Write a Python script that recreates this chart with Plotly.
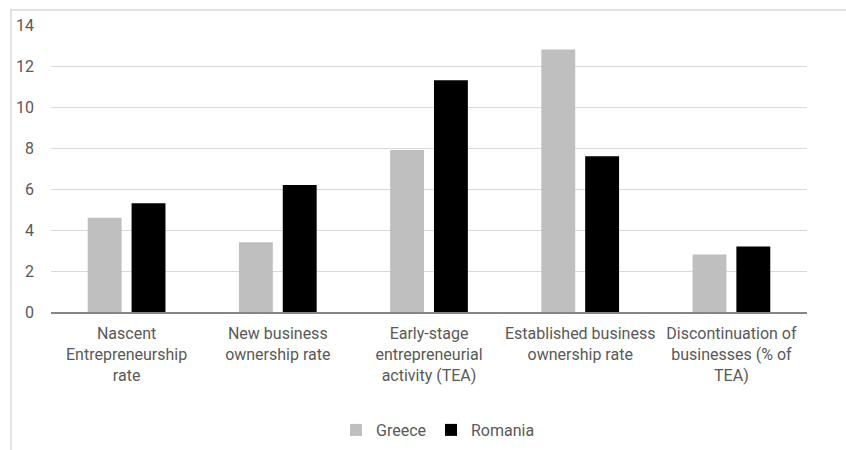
import plotly.graph_objects as go

categories = [
    "Nascent<br>Entrepreneurship<br>rate",
    "New business<br>ownership rate",
    "Early-stage<br>entrepreneurial<br>activity (TEA)",
    "Established business<br>ownership rate",
    "Discontinuation of<br>businesses (% of<br>TEA)",
]
greece = [4.6, 3.4, 7.9, 12.8, 2.8]
romania = [5.3, 6.2, 11.3, 7.6, 3.2]
y_ticks = [0, 2, 4, 6, 8, 10, 12, 14]

FONT = "Roboto, Arial, sans-serif"
TXT = "#595959"

fig = go.Figure()
fig.add_trace(go.Bar(name="Greece", x=categories, y=greece, marker_color="#bfbfbf",
                     marker_line_width=0))
fig.add_trace(go.Bar(name="Romania", x=categories, y=romania, marker_color="#000000",
                     marker_line_width=0))

L, R, T, B = 51, 39, 25, 138
W, H = 846, 450
pw, ph = W - L - R, H - T - B

def px_x(p):
    return (p - L) / pw

def px_y(p):
    return (H - B - p) / ph

fig.update_layout(
    width=W, height=H,
    margin=dict(l=L, r=R, t=T, b=B, pad=0),
    paper_bgcolor="white", plot_bgcolor="white",
    barmode="group", bargap=0.42, bargroupgap=0.227,
    font=dict(family=FONT, color=TXT, size=16),
    showlegend=True,
    legend=dict(orientation="h", xref="container", yref="container",
                x=438 / W, xanchor="center", y=1 - 430 / H, yanchor="middle",
                font=dict(size=16, color=TXT), itemwidth=30, traceorder="normal"),
    xaxis=dict(showgrid=False, showline=True, linecolor="#868686", linewidth=1.5,
               ticks="", tickfont=dict(size=16, color=TXT), tickangle=0,
               ticklabelstandoff=6),
    yaxis=dict(range=[0, 14], tickvals=y_ticks, showgrid=True, gridcolor="#d9d9d9",
               gridwidth=1, zeroline=False, showline=False, ticks="",
               tickfont=dict(size=16, color=TXT), ticklabelstandoff=16),
    shapes=[dict(type="rect", xref="paper", yref="paper",
                 x0=px_x(11), x1=px_x(900), y0=px_y(500), y1=px_y(10),
                 line=dict(color="#d9d9d9", width=1.5), fillcolor="rgba(0,0,0,0)", layer="below")],
)

fig.write_html("out.html")
